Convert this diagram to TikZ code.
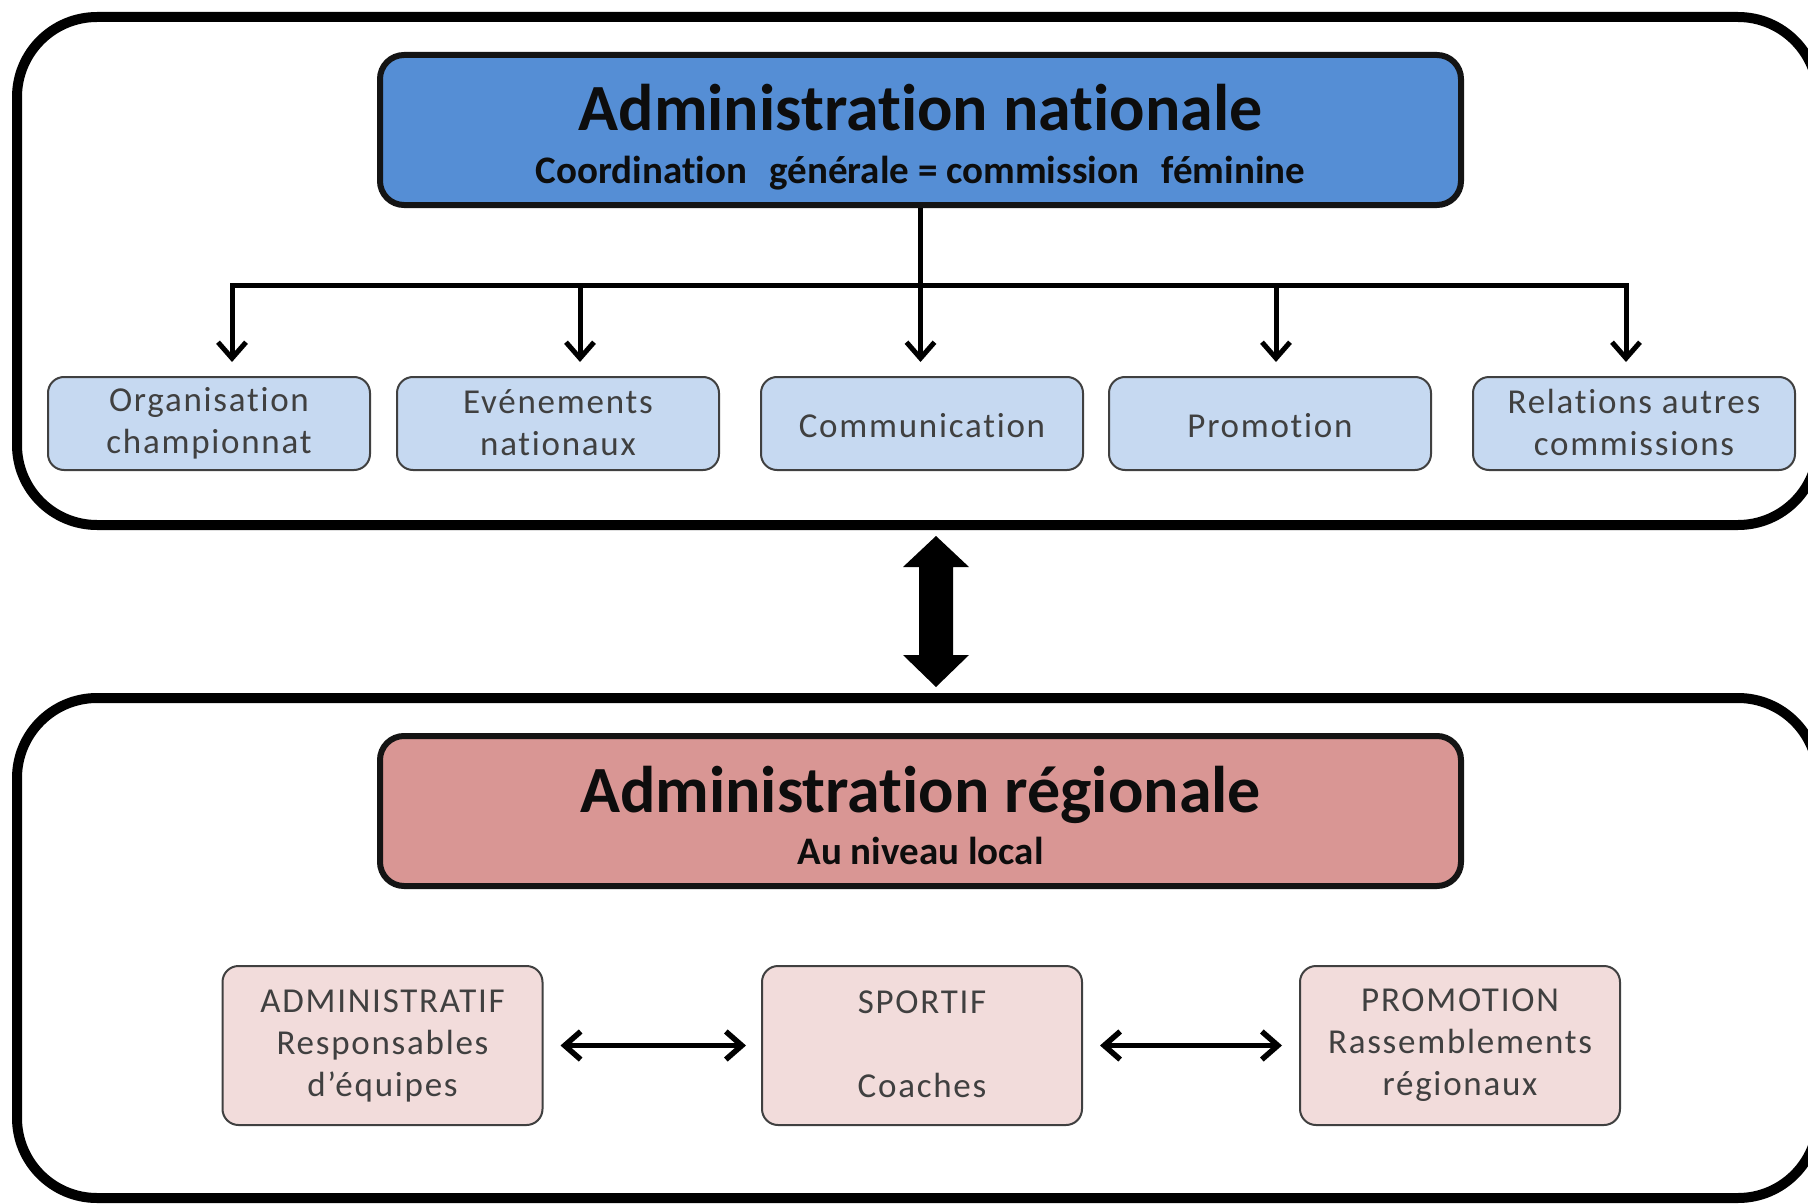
\documentclass[tikz,border=0pt]{standalone}
\usepackage{fontspec}
\setmainfont[Ligatures=NoCommon]{Carlito}
\newfontfamily\spacedfont[LetterSpace=5,Ligatures=NoCommon]{Carlito}
\usetikzlibrary{arrows.meta}
\definecolor{blueA}{RGB}{85,142,213}
\definecolor{blueL}{RGB}{198,217,241}
\definecolor{pinkA}{RGB}{217,150,148}
\definecolor{pinkL}{RGB}{242,220,219}
\definecolor{txtgray}{RGB}{64,64,64}
\definecolor{titletxt}{RGB}{13,13,13}
\tikzset{
  panel/.style={draw=black, line width=10pt, rounded corners=80pt, minimum width=1801pt, inner sep=0pt},
  headbox/.style={draw=black!92, line width=6pt, rounded corners=24pt, minimum width=1081pt, minimum height=150pt, inner sep=0pt},
  titletext/.style={anchor=base, text=titletxt, font=\bfseries\fontsize{66}{72}\selectfont},
  subtitletext/.style={anchor=base, text=titletxt, font=\bfseries\fontsize{39}{44}\selectfont},
  subbox/.style={draw=txtgray, line width=2pt, rounded corners=16pt, inner sep=0pt, align=center, text=txtgray,
    font=\spacedfont\fontsize{35}{42}\selectfont},
  singleline/.style={execute at begin node={\rule{0pt}{35.4pt}}, execute at end node={\rule[-6.6pt]{0pt}{0pt}}},
  multiline/.style={execute at begin node={\rule{0pt}{39.4pt}}, execute at end node={\rule[-2.6pt]{0pt}{0pt}}},
  natbox/.style={subbox, fill=blueL, minimum width=322pt, minimum height=93pt},
  regbox/.style={subbox, multiline, fill=pinkL, minimum width=320pt, minimum height=159pt},
  conn/.style={line width=5pt, -{Straight Barb[length=16pt, width=28pt]}},
  dblconn/.style={line width=5.5pt, {Straight Barb[length=16pt, width=28pt]}-{Straight Barb[length=16pt, width=28pt]}}
}
\begin{document}
\begin{tikzpicture}[x=1pt, y=-1pt]
\useasboundingbox (0,0) rectangle (1808,1204);
\fill[white] (0,0) rectangle (1808,1204);

% outer panels
\node[panel, minimum height=508pt] (natpanel) at (917.5,271) {};
\node[panel, minimum height=500pt] (regpanel) at (917.5,948) {};

% national head box
\node[headbox, fill=blueA] (nat) at (920.5,130) {};
\node[titletext] (natT) at ([yshift=-79pt]nat.north) {Administration nationale};
\node[subtitletext] (natS) at ([yshift=-131pt]nat.north) {Coordination\hspace{0.35em} générale = commission\hspace{0.35em} féminine};

% national sub boxes
\node[natbox, multiline] (n1) at (209,423.5) {Organisation\\championnat};
\node[natbox, multiline] (n2) at (558,423.5) {Evénements\\nationaux};
\node[natbox, singleline] (n3) at (922,423.5) {Communication};
\node[natbox, singleline] (n4) at (1270,423.5) {Promotion};
\node[natbox, multiline] (n5) at (1634,423.5) {Relations autres\\commissions};

% connector tree
\coordinate (hub) at (920.5,285);
\coordinate (a1) at (232,362);
\coordinate (a2) at (580,362);
\coordinate (a3) at (920.5,362);
\coordinate (a4) at (1276,362);
\coordinate (a5) at (1626,362);
\draw[conn] (hub) -- (a1 |- hub) -- (a1);
\draw[conn] (hub) -- (a5 |- hub) -- (a5);
\draw[conn] (a2 |- hub) -- (a2);
\draw[conn] (a4 |- hub) -- (a4);
\draw[conn] (nat.south) -- (a3);

% big double arrow between panels
\coordinate (bigtop) at (936,536);
\coordinate (bigbot) at (936,687);
\fill[black] (bigtop) -- ++(33,31) -- ++(-16,0) -- ++(0,88) -- ++(16,0) -- (bigbot)
  -- ++(-33,-32) -- ++(16,0) -- ++(0,-88) -- ++(-16,0) -- cycle;

% regional head box
\node[headbox, fill=pinkA] (reg) at (920.5,811) {};
\node[titletext] (regT) at ([yshift=-79pt]reg.north) {Administration régionale};
\node[subtitletext] (regS) at ([yshift=-131pt]reg.north) {Au niveau local};

% regional sub boxes
\node[regbox] (r1) at (382.5,1045.5) {ADMINISTRATIF\\Responsables\\d’équipes};
\node[regbox] (r2) at (922,1045.5) {SPORTIF\\\mbox{}\\Coaches};
\node[regbox] (r3) at (1460,1045.5) {PROMOTION\\Rassemblements\\régionaux};

\draw[dblconn] ([xshift=17pt]r1.east) -- ([xshift=-15pt]r2.west);
\draw[dblconn] ([xshift=17pt]r2.east) -- ([xshift=-17pt]r3.west);
\end{tikzpicture}
\end{document}
